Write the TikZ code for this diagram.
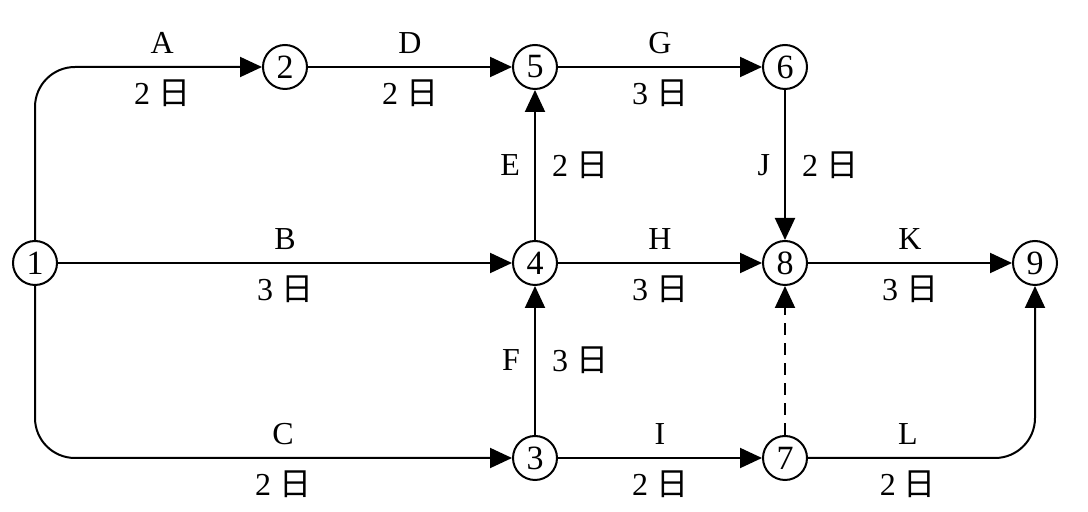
\documentclass[tikz,border=0pt]{standalone}
\usepackage{fontspec}
\setmainfont{Liberation Serif}
\newfontfamily\cjk{Noto Sans CJK SC}
\usetikzlibrary{positioning,arrows.meta}
\newcommand{\dd}[1]{#1 {\cjk 日}}

\begin{document}
\begin{tikzpicture}[x=0.5pt,y=-0.5pt,font=\fontsize{16}{18}\selectfont,
  event/.style={circle,draw,line width=1pt,minimum size=22pt,inner sep=0pt,font=\fontsize{17}{18}\selectfont},
  act/.style={line width=1pt,-{Triangle[length=11pt,width=10pt]}},
  dummy/.style={act,dashed,dash pattern=on 6pt off 4pt},
  lbl/.style={inner sep=1pt}]
\useasboundingbox (0,0) rectangle (1088,512);
% events
\node[event](n1)at(35,263){1};
\node[event](n2)at(285,67){2};
\node[event](n5)at(535,67){5};
\node[event](n6)at(785,67){6};
\node[event](n4)at(535,263){4};
\node[event](n8)at(785,263){8};
\node[event](n9)at(1035,263){9};
\node[event](n3)at(535,458){3};
\node[event](n7)at(785,458){7};
% activities
\draw[act,rounded corners=20pt](n1)|-(n2)
  node[lbl,pos=.78,above=5pt]{A}node[lbl,pos=.78,below=5pt]{\dd2};
\draw[act](n2)--(n5)node[lbl,midway,above=5pt]{D}node[lbl,midway,below=5pt]{\dd2};
\draw[act](n5)--(n6)node[lbl,midway,above=5pt]{G}node[lbl,midway,below=5pt]{\dd3};
\draw[act](n6)--(n8)node[lbl,midway,left=6pt]{J}node[lbl,midway,right=7pt]{\dd2};
\draw[act](n4)--(n5)node[lbl,midway,left=6pt]{E}node[lbl,midway,right=7pt]{\dd2};
\draw[act](n1)--(n4)node[lbl,midway,above=5pt]{B}node[lbl,midway,below=5pt]{\dd3};
\draw[act](n4)--(n8)node[lbl,midway,above=5pt]{H}node[lbl,midway,below=5pt]{\dd3};
\draw[act](n8)--(n9)node[lbl,midway,above=5pt]{K}node[lbl,midway,below=5pt]{\dd3};
\draw[act](n3)--(n4)node[lbl,midway,left=6pt]{F}node[lbl,midway,right=7pt]{\dd3};
\draw[act,rounded corners=20pt](n1)|-(n3)
  node[lbl,pos=.76,above=5pt]{C}node[lbl,pos=.76,below=5pt]{\dd2};
\draw[act](n3)--(n7)node[lbl,midway,above=5pt]{I}node[lbl,midway,below=5pt]{\dd2};
\draw[dummy](n7)--(n8);
\draw[act,rounded corners=20pt](n7)-|(n9)
  node[lbl,pos=.22,above=5pt]{L}node[lbl,pos=.22,below=5pt]{\dd2};
\end{tikzpicture}
\end{document}
